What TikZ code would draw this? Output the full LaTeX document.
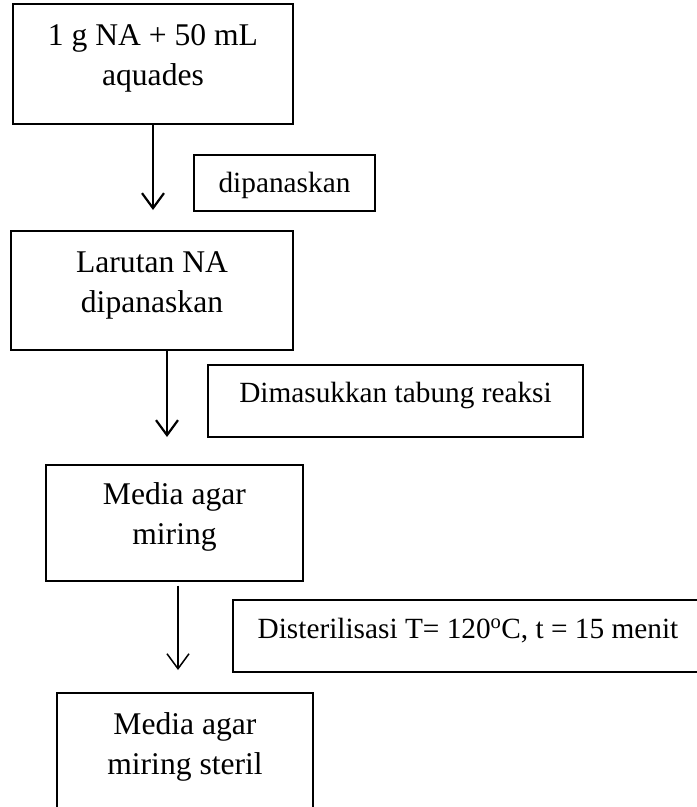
\documentclass[tikz,border=0pt]{standalone}
\usepackage{fontspec}
\setmainfont{Liberation Serif}
\usetikzlibrary{arrows.meta,calc}
\tikzset{
  box/.style={draw=black, line width=1.2pt, inner sep=0pt, rectangle},
  big/.style={font=\fontsize{31.6}{40}\selectfont, inner sep=0pt, anchor=base},
  small/.style={font=\fontsize{29.3}{36}\selectfont, inner sep=0pt, anchor=base},
  flow/.style={line width=2.2pt, -{Straight Barb[length=15pt,width=22pt]}},
  flowthin/.style={line width=1.5pt, -{Straight Barb[length=15pt,width=22pt]}},
}
\begin{document}
\begin{tikzpicture}[x=1pt,y=-1pt]
\useasboundingbox (0,0) rectangle (697,807);
% main boxes
\node[box, minimum width=280pt, minimum height=120pt] (b1) at (153,64) {};
\node[big] (b1t) at (153,45) {1 g NA + 50 mL};
\node[big] (b1u) at (153,85) {aquades};

\node[box, minimum width=282pt, minimum height=119pt] (b2) at (152,290.5) {};
\node[big] (b2t) at (152,272) {Larutan NA};
\node[big] (b2u) at (152,312) {dipanaskan};

\node[box, minimum width=257pt, minimum height=116pt] (b3) at (174.5,523) {};
\node[big] (b3t) at (174.5,504) {Media agar};
\node[big] (b3u) at (174.5,544) {miring};

\node[box, minimum width=256pt, minimum height=122pt] (b4) at (185,754) {};
\node[big] (b4t) at (185,734) {Media agar};
\node[big] (b4u) at (185,774) {miring steril};

% side labels
\node[box, minimum width=181pt, minimum height=56pt] (l1) at (284.5,183) {};
\node[small] (l1t) at (284.5,192) {dipanaskan};

\node[box, minimum width=375pt, minimum height=72pt] (l2) at (395.5,401) {};
\node[small] (l2t) at (395.5,402) {Dimasukkan tabung reaksi};

\node[box, minimum width=470pt, minimum height=72pt] (l3) at (468,636) {};
\node[small] (l3t) at (468,638) {Disterilisasi T= 120\textsuperscript{o}C, t = 15 menit};

% arrows
\coordinate (a1) at (153,210);
\coordinate (a2) at (167,437);
\coordinate (a3) at (178,670);
\draw[flow] (b1.south) -- (a1);
\draw[flow] (b2.south -| a2) -- (a2);
\draw[flowthin] ($(b3.south -| a3)+(0,4)$) -- (a3);
\end{tikzpicture}
\end{document}
